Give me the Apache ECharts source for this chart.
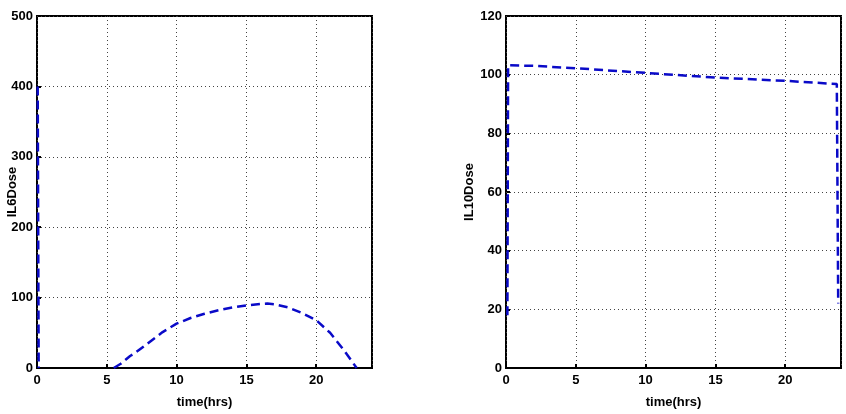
<!DOCTYPE html>
<html>
	<head>
		<meta charset="utf-8">
		<script src="https://cdn.jsdelivr.net/npm/echarts@6/dist/echarts.min.js"></script>
		<title></title>
		<style>
			body { margin: 0; background: #fff; }
		</style>
	</head>
	<body>
		<div id="main" style="width: 846px;height:414px;"></div>
		<script type="text/javascript">
			// IL6 dose curve (time in hrs, dose); null = stretch hidden on the x axis
			var il6Time = [0.05, 0.12, 3, 5.5, 6, 6.67, 7, 8, 9, 10, 11, 12, 13, 14, 15, 16, 16.5, 17, 18, 19, 20, 21, 22, 22.9];
			var il6Dose = [400, 0, null, 0, 6, 17, 21, 36, 51, 63, 71, 77, 82, 86, 89, 91, 91.5, 90.5, 86, 78, 68, 50, 25, 0];

			// IL10 dose curve
			var il10Time = [0.1, 0.15, 2, 5, 10, 15, 20, 23.7, 23.8];
			var il10Dose = [18, 103.2, 103, 102.2, 100.6, 99, 97.9, 96.8, 22];

			var xTicks = { min: 0, max: 24, interval: 5 };
			var il6Ticks = { min: 0, max: 500, interval: 100 };
			var il10Ticks = { min: 0, max: 120, interval: 20 };

			function zip(a, b) {
				var out = [];
				for (var i = 0; i < a.length; i++) out.push([a[i], b[i] === null ? '-' : b[i]]);
				return out;
			}

			var font = { fontFamily: 'Liberation Sans', fontWeight: 'bold', fontSize: 13, color: '#000' };

			function xAxis(idx) {
				return {
					type: 'value', gridIndex: idx, z: 3,
					min: xTicks.min, max: xTicks.max, interval: xTicks.interval,
					name: 'time(hrs)', nameLocation: 'middle', nameGap: 28,
					nameTextStyle: font,
					axisLine: { lineStyle: { color: '#000', width: 2 } },
					axisTick: { inside: true, length: 4, lineStyle: { color: '#000', width: 2 } },
					axisLabel: Object.assign({ showMaxLabel: false, margin: 6 }, font),
					splitLine: { show: true, lineStyle: { color: '#444', type: [1, 3], width: 1 } }
				};
			}

			function yAxis(idx, name, t, gap) {
				return {
					type: 'value', gridIndex: idx,
					min: t.min, max: t.max, interval: t.interval,
					name: name, nameLocation: 'middle', nameGap: gap, nameRotate: 90,
					nameMoveOverlap: false,
					nameTextStyle: font,
					axisLine: { show: true, lineStyle: { color: '#000', width: 2 } },
					axisTick: { show: true, inside: true, length: 4, lineStyle: { color: '#000', width: 2 } },
					axisLabel: Object.assign({ margin: 4 }, font),
					splitLine: { show: true, lineStyle: { color: '#444', type: [1, 3], width: 1 } }
				};
			}

			var lineStyle = { color: '#0a0ac8', width: 2.5, type: [9, 5] };

			var myChart = echarts.init(document.getElementById('main'));
			var option = {
				animation: false,
				backgroundColor: '#fff',
				grid: [
					{ left: 37, right: 474, top: 16, bottom: 46, outerBoundsMode: 'none', containLabel: false, show: true, borderColor: '#000', borderWidth: 2 },
					{ left: 506, right: 5, top: 16, bottom: 46, outerBoundsMode: 'none', containLabel: false, show: true, borderColor: '#000', borderWidth: 2 }
				],
				xAxis: [xAxis(0), xAxis(1)],
				yAxis: [yAxis(0, 'IL6Dose', il6Ticks, 18), yAxis(1, 'IL10Dose', il10Ticks, 30)],
				series: [
					{ type: 'line', xAxisIndex: 0, yAxisIndex: 0, data: zip(il6Time, il6Dose), showSymbol: false, connectNulls: false, lineStyle: lineStyle },
					{ type: 'line', xAxisIndex: 1, yAxisIndex: 1, data: zip(il10Time, il10Dose), showSymbol: false, lineStyle: lineStyle }
				]
			};
			myChart.setOption(option);
		</script>
	</body>
</html>
